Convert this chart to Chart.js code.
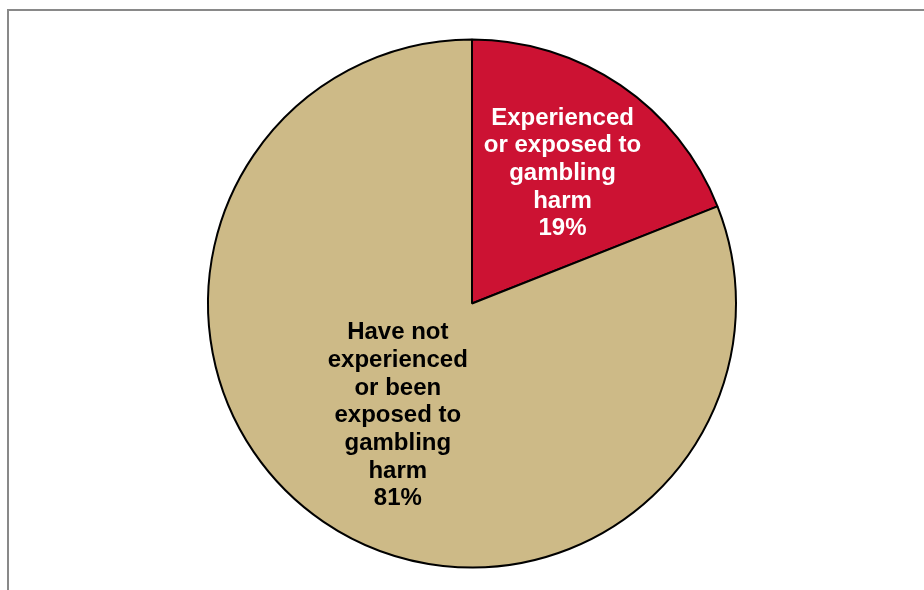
<!DOCTYPE html>
<html>
<head>
<meta charset="utf-8">
<title>Gambling harm</title>
<script src="https://cdn.jsdelivr.net/npm/chart.js@4"></script>
<style>
  html, body { margin: 0; padding: 0; background: #fff; }
  #wrap { width: 924px; height: 590px; }
</style>
</head>
<body>
<div id="wrap"><canvas id="harmPie" width="924" height="590"></canvas></div>
<script>
const categories = [
  ['Experienced', 'or exposed to', 'gambling', 'harm'],
  ['Have not', 'experienced', 'or been', 'exposed to', 'gambling', 'harm']
];
const shares = [19, 81];
const sliceColors = ['#CC1233', '#CDBA87'];
const labelColors = ['#ffffff', '#000000'];
// how far out along the slice middle each label sits (share of radius)
const labelRadius = [0.61, 0.50];

// gray frame on the top and left
const framePlugin = {
  id: 'frame',
  beforeDraw(chart) {
    const c = chart.ctx;
    c.save();
    c.strokeStyle = '#898989';
    c.lineWidth = 2;
    c.beginPath();
    c.moveTo(8, 600);
    c.lineTo(8, 10);
    c.lineTo(930, 10);
    c.stroke();
    c.restore();
  }
};

// labels with the share written in each slice
const sliceLabels = {
  id: 'sliceLabels',
  afterDatasetsDraw(chart) {
    const c = chart.ctx;
    const meta = chart.getDatasetMeta(0);
    c.save();
    c.font = 'bold 24px Arial, "Liberation Sans", sans-serif';
    c.textAlign = 'center';
    c.textBaseline = 'middle';
    meta.data.forEach((arc, i) => {
      const p = arc.getProps(['x', 'y', 'startAngle', 'endAngle', 'outerRadius'], true);
      const mid = (p.startAngle + p.endAngle) / 2;
      const r = p.outerRadius * labelRadius[i];
      const cx = p.x + Math.cos(mid) * r;
      const cy = p.y + Math.sin(mid) * r + 3;
      const lines = categories[i].concat([shares[i] + '%']);
      const lh = 27.7;
      const top = cy - (lines.length - 1) * lh / 2;
      c.fillStyle = labelColors[i];
      lines.forEach((t, k) => c.fillText(t, cx, top + k * lh));
    });
    c.restore();
  }
};

new Chart(document.getElementById('harmPie'), {
  type: 'pie',
  data: {
    labels: categories.map(l => l.join(' ')),
    datasets: [{
      data: shares,
      backgroundColor: sliceColors,
      borderColor: '#000000',
      borderWidth: 2
    }]
  },
  options: {
    responsive: false,
    animation: false,
    radius: 264,
    layout: { padding: { left: 20, right: 0, top: 17, bottom: 0 } },
    plugins: {
      legend: { display: false },
      tooltip: { enabled: false }
    }
  },
  plugins: [framePlugin, sliceLabels]
});
</script>
</body>
</html>
